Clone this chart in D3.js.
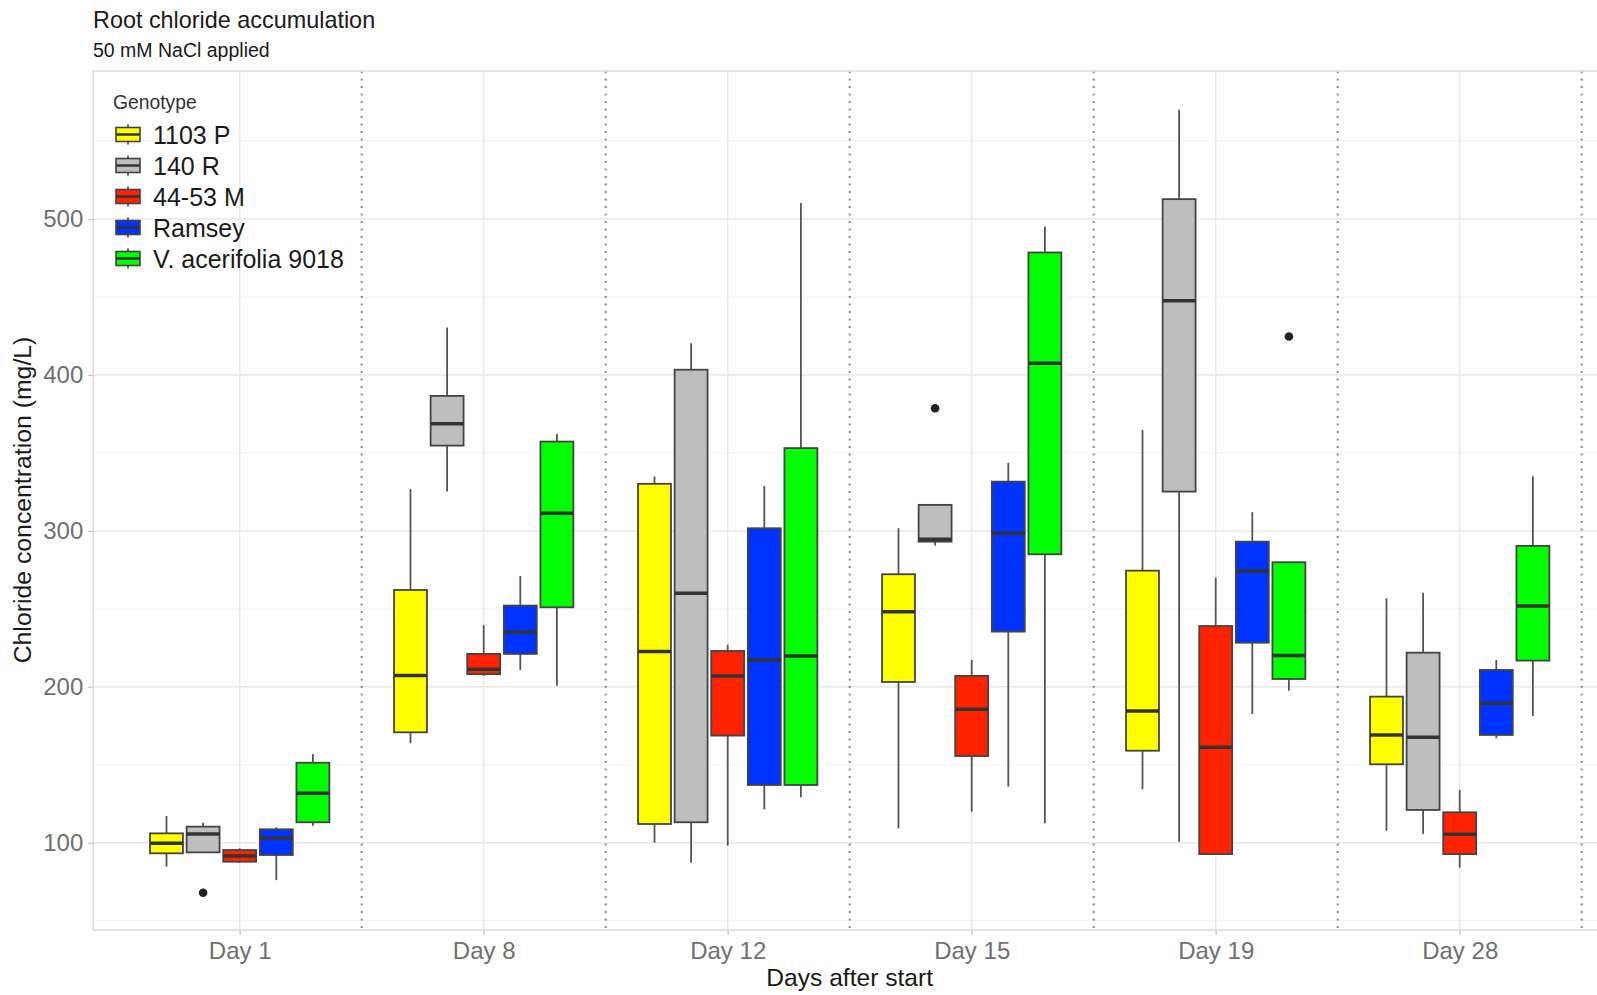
<!DOCTYPE html>
<html>
<head>
<meta charset="utf-8">
<script src="https://cdn.jsdelivr.net/npm/d3@7"></script>
<style>
  html, body { margin: 0; padding: 0; background: #ffffff; }
  svg { display: block; font-family: "Liberation Sans", Arial, Helvetica, sans-serif; }
</style>
</head>
<body>
<svg id="chart" width="1597" height="995"></svg>
<script>
// ---------------- data ----------------
const days = ["Day 1", "Day 8", "Day 12", "Day 15", "Day 19", "Day 28"];
const genotypes = ["1103 P", "140 R", "44-53 M", "Ramsey", "V. acerifolia 9018"];
const yTicks = [100, 200, 300, 400, 500];

// five-number summaries per day: [lower whisker, Q1, median, Q3, upper whisker]
const stats1103P = [
  [84.6, 93.2, 99.6, 106.0, 117.1],
  [163.8, 170.8, 207.2, 262.1, 326.8],
  [100.0, 112.0, 222.6, 330.2, 334.9],
  [109.2, 203.1, 248.2, 272.2, 301.7],
  [134.3, 159.0, 184.5, 274.5, 364.8],
  [107.7, 150.3, 169.1, 193.7, 256.8]
];
const stats140R = [
  [93.8, 93.8, 105.6, 110.3, 112.8],
  [325.2, 354.7, 368.7, 386.6, 430.4],
  [87.2, 113.1, 260.0, 403.4, 420.4],
  [290.6, 293.1, 294.7, 316.7, 316.7],
  [100.6, 325.2, 447.6, 512.8, 570.1],
  [105.6, 121.0, 167.6, 221.9, 260.4]
];
const stats4453M = [
  [87.0, 87.8, 91.5, 95.3, 96.4],
  [207.0, 208.1, 211.3, 221.1, 239.7],
  [98.1, 168.7, 207.0, 223.0, 226.9],
  [119.9, 155.6, 185.6, 207.0, 217.2],
  [92.7, 92.7, 161.2, 239.0, 270.0],
  [84.0, 92.7, 105.4, 119.5, 133.8]
];
const statsRamsey = [
  [76.0, 92.1, 102.8, 108.6, 109.9],
  [210.8, 221.1, 235.0, 252.1, 271.1],
  [121.4, 137.0, 217.2, 301.7, 328.9],
  [135.9, 235.4, 298.5, 331.6, 343.8],
  [182.6, 228.3, 274.3, 293.1, 312.0],
  [167.0, 169.1, 189.5, 210.8, 217.2]
];
const statsAcerifolia = [
  [110.9, 113.1, 131.7, 151.3, 156.9],
  [200.7, 251.0, 311.3, 357.3, 362.2],
  [129.1, 137.0, 219.8, 353.1, 510.3],
  [112.4, 285.0, 407.6, 478.6, 495.3],
  [197.5, 205.0, 220.0, 279.9, 279.9],
  [181.3, 216.8, 251.9, 290.4, 335.0]
];
const outlierGenotype = ["140 R", "140 R", "V. acerifolia 9018"];
const outlierDay = ["Day 1", "Day 15", "Day 19"];
const outlierValue = [67.9, 378.7, 424.7];

// ---------------- styles ----------------
const fillColors = ["#FFFF00", "#BEBEBE", "#FF2200", "#0033FF", "#00FF00"];
const allStats = [stats1103P, stats140R, stats4453M, statsRamsey, statsAcerifolia];

const boxes = [];
genotypes.forEach((g, gi) => {
  days.forEach((d, di) => {
    const s = allStats[gi][di];
    boxes.push({ genotype: g, day: d, lo: s[0], q1: s[1], med: s[2], q3: s[3], hi: s[4] });
  });
});
const outliers = outlierValue.map((v, i) => ({ genotype: outlierGenotype[i], day: outlierDay[i], value: v }));

// ---------------- layout ----------------
const svg = d3.select("#chart");
const panel = { left: 93.3, right: 1606.1, top: 71, bottom: 930 };

const x = d3.scalePoint().domain(days).range([panel.left, panel.right]).padding(0.6);
const step = x.step();
const xInner = d3.scaleBand().domain(genotypes)
  .range([-0.375 * step, 0.375 * step]).paddingInner(0.1).paddingOuter(0.05);
const y = d3.scaleLinear().domain([44, 595]).range([panel.bottom, panel.top]);

const colour = d3.scaleOrdinal().domain(genotypes).range(fillColors);

svg.append("rect").attr("width", 1597).attr("height", 995).attr("fill", "#ffffff");

svg.append("clipPath").attr("id", "pclip").append("rect")
  .attr("x", panel.left).attr("y", panel.top)
  .attr("width", panel.right - panel.left).attr("height", panel.bottom - panel.top);

const gp = svg.append("g").attr("clip-path", "url(#pclip)");

// minor grid
const minorTicks = d3.range(50, 600, 100);
gp.selectAll("line.minor").data(minorTicks).join("line")
  .attr("x1", panel.left).attr("x2", panel.right)
  .attr("y1", d => y(d)).attr("y2", d => y(d))
  .attr("stroke", "#f3f3f3").attr("stroke-width", 1.2);
// major grid
gp.selectAll("line.majory").data(yTicks).join("line")
  .attr("x1", panel.left).attr("x2", panel.right)
  .attr("y1", d => y(d)).attr("y2", d => y(d))
  .attr("stroke", "#e8e8e8").attr("stroke-width", 1.5);
gp.selectAll("line.majorx").data(days).join("line")
  .attr("x1", d => x(d)).attr("x2", d => x(d))
  .attr("y1", panel.top).attr("y2", panel.bottom)
  .attr("stroke", "#e8e8e8").attr("stroke-width", 1.5);

// dotted separators between days
const seps = days.map(d => x(d) + step / 2);
gp.selectAll("line.sep").data(seps).join("line")
  .attr("x1", d => d).attr("x2", d => d)
  .attr("y1", panel.top).attr("y2", panel.bottom)
  .attr("stroke", "#8a8a8a").attr("stroke-width", 2)
  .attr("stroke-dasharray", "2,5.5");

// panel border
svg.append("rect")
  .attr("x", panel.left).attr("y", panel.top)
  .attr("width", panel.right - panel.left).attr("height", panel.bottom - panel.top)
  .attr("fill", "none").attr("stroke", "#dcdcdc").attr("stroke-width", 1.6);

// boxplots
const bw = xInner.bandwidth();
const cx = d => x(d.day) + xInner(d.genotype) + bw / 2;
const gb = gp.append("g");
const bx = gb.selectAll("g.box").data(boxes).join("g");
bx.append("line")
  .attr("x1", cx).attr("x2", cx)
  .attr("y1", d => y(d.hi)).attr("y2", d => y(d.q3))
  .attr("stroke", "#555").attr("stroke-width", 1.8);
bx.append("line")
  .attr("x1", cx).attr("x2", cx)
  .attr("y1", d => y(d.q1)).attr("y2", d => y(d.lo))
  .attr("stroke", "#555").attr("stroke-width", 1.8);
bx.append("rect")
  .attr("x", d => cx(d) - bw / 2).attr("width", bw)
  .attr("y", d => y(d.q3)).attr("height", d => Math.max(0.5, y(d.q1) - y(d.q3)))
  .attr("fill", d => colour(d.genotype))
  .attr("stroke", "#444").attr("stroke-width", 1.8);
bx.append("line")
  .attr("x1", d => cx(d) - bw / 2).attr("x2", d => cx(d) + bw / 2)
  .attr("y1", d => y(d.med)).attr("y2", d => y(d.med))
  .attr("stroke", "#333").attr("stroke-width", 3.5);

gb.selectAll("circle.out").data(outliers).join("circle")
  .attr("cx", d => x(d.day) + xInner(d.genotype) + bw / 2)
  .attr("cy", d => y(d.value)).attr("r", 4.3)
  .attr("fill", "#222");

// axes
const yAxis = d3.axisLeft(y).tickValues(yTicks).tickSize(5.5).tickPadding(4.5);
const ya = svg.append("g").attr("transform", `translate(${panel.left},0)`).call(yAxis);
ya.select(".domain").remove();
ya.selectAll(".tick line").attr("stroke", "#c8c8c8").attr("stroke-width", 1.3);
ya.selectAll(".tick text").attr("fill", "#707070")
  .attr("font-size", 24).attr("font-family", "Liberation Sans, Arial, sans-serif");

const xAxis = d3.axisBottom(x).tickSize(5).tickPadding(7);
const xa = svg.append("g").attr("transform", `translate(0,${panel.bottom})`).call(xAxis);
xa.select(".domain").remove();
xa.selectAll(".tick line").attr("stroke", "#c8c8c8").attr("stroke-width", 1.3);
xa.selectAll(".tick text").attr("fill", "#707070")
  .attr("font-size", 24).attr("font-family", "Liberation Sans, Arial, sans-serif");

// titles
svg.append("text").attr("x", 93).attr("y", 27.5)
  .attr("font-size", 23.4).attr("fill", "#1a1a1a").text("Root chloride accumulation");
svg.append("text").attr("x", 93).attr("y", 56.5)
  .attr("font-size", 19.5).attr("fill", "#1a1a1a").text("50 mM NaCl applied");

svg.append("text")
  .attr("transform", `translate(31,500) rotate(-90)`)
  .attr("text-anchor", "middle").attr("font-size", 24.8).attr("fill", "#1a1a1a")
  .text("Chloride concentration (mg/L)");
svg.append("text")
  .attr("x", (panel.left + panel.right) / 2).attr("y", 986)
  .attr("text-anchor", "middle").attr("font-size", 24.6).attr("fill", "#1a1a1a")
  .text("Days after start");

// legend
const lg = svg.append("g");
lg.append("text").attr("x", 113).attr("y", 108.5)
  .attr("font-size", 19.3).attr("fill", "#333").text("Genotype");
const rowY = d3.scalePoint().domain(genotypes).range([134.5, 258.5]);
const items = lg.selectAll("g.item").data(genotypes).join("g")
  .attr("transform", d => `translate(0,${rowY(d)})`);
items.append("line").attr("x1", 128).attr("x2", 128).attr("y1", -10).attr("y2", 10)
  .attr("stroke", "#444").attr("stroke-width", 1.6);
items.append("rect").attr("x", 116).attr("y", -7).attr("width", 24).attr("height", 14)
  .attr("fill", d => colour(d)).attr("stroke", "#444").attr("stroke-width", 1.6);
items.append("line").attr("x1", 116).attr("x2", 140).attr("y1", 0).attr("y2", 0)
  .attr("stroke", "#333").attr("stroke-width", 2.5);
items.append("text").attr("x", 153).attr("y", 9.5)
  .attr("font-size", 25).attr("fill", "#1a1a1a").text(d => d);
</script>
</body>
</html>
